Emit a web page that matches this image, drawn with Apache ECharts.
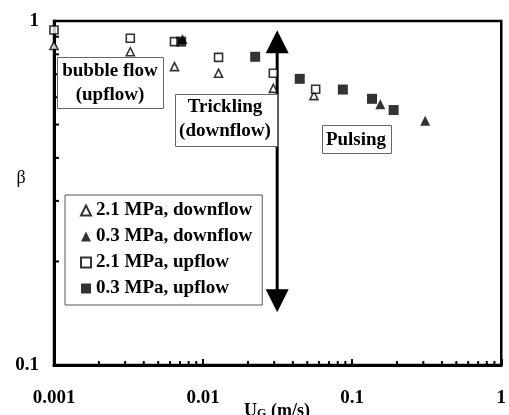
<!DOCTYPE html>
<html><head><meta charset="utf-8">
<script src="https://cdn.jsdelivr.net/npm/echarts@6/dist/echarts.min.js"></script>
<style>html,body{margin:0;padding:0;background:#fff}#c{width:509px;height:415px}</style>
</head><body><div id="c"></div>
<script>
// ---- data ----
const xTickLabels = ['0.001', '0.01', '0.1', '1'];
const yTickLabels = ['0.1', '1'];
const xMinorTickValues = [0.002,0.003,0.004,0.005,0.006,0.007,0.008,0.009,
                          0.02,0.03,0.04,0.05,0.06,0.07,0.08,0.09,
                          0.2,0.3,0.4,0.5,0.6,0.7,0.8,0.9];
const yMinorTickValues = [0.2,0.3,0.4,0.5,0.6,0.7,0.8,0.9];

const down21_UG   = [0.001, 0.00325, 0.00643, 0.0127, 0.0296, 0.0554];
const down21_beta = [0.849, 0.814, 0.737, 0.705, 0.637, 0.607];

const down03_UG   = [0.00727, 0.1545, 0.309];
const down03_beta = [0.886, 0.573, 0.513];

const up21_UG   = [0.001, 0.00325, 0.00643, 0.0127, 0.0296, 0.0569];
const up21_beta = [0.942, 0.891, 0.871, 0.784, 0.705, 0.633];

const up03_UG   = [0.00713, 0.02236, 0.0445, 0.0866, 0.1358, 0.1897];
const up03_beta = [0.871, 0.787, 0.679, 0.632, 0.594, 0.551];

// transition arrow (U_G, beta at lower tip, beta at upper tip)
const arrowUG = 0.0314;
const arrowBetaLow = 0.1424;
const arrowBetaHigh = 0.94;

const seriesNames = ['2.1 MPa, downflow', '0.3 MPa, downflow', '2.1 MPa, upflow', '0.3 MPa, upflow'];

// ---- chart ----
const FONT = '"Liberation Serif", "Times New Roman", serif';
const zip = (a, b) => a.map((v, i) => [v, b[i]]);
const chart = echarts.init(document.getElementById('c'), null, {renderer: 'canvas'});

const openStyle = {color: '#fff', borderColor: '#000', borderWidth: 1.6};
const fillStyle = {color: '#000', borderColor: '#000', borderWidth: 0};

const option = {
  animation: false,
  backgroundColor: '#fff',
  grid: {left: 54, right: 6, top: 21, bottom: 50, show: true, borderColor: '#000', borderWidth: 2.5},
  xAxis: {
    type: 'log', logBase: 10, min: 0.001, max: 1,
    axisLine: {show: true, lineStyle: {color: '#000', width: 3}},
    axisTick: {show: true, inside: true, length: 6, lineStyle: {color: '#000', width: 2}},
    splitLine: {show: false},
    axisLabel: {
      margin: 24, color: '#000', fontFamily: FONT, fontWeight: 'bold', fontSize: 19,
      formatter: v => { const s = String(+(+v).toPrecision(3)); return xTickLabels.indexOf(s) >= 0 ? s : ''; }
    }
  },
  yAxis: {
    type: 'log', logBase: 10, min: 0.1, max: 1,
    axisLine: {show: true, lineStyle: {color: '#000', width: 3}},
    axisTick: {show: false},
    splitLine: {show: false},
    axisLabel: {
      margin: 15, color: '#000', fontFamily: FONT, fontWeight: 'bold', fontSize: 19,
      formatter: v => { const s = String(+(+v).toPrecision(3)); return yTickLabels.indexOf(s) >= 0 ? s : ''; }
    }
  },
  legend: {
    data: seriesNames,
    orient: 'vertical',
    left: 65, top: 195,
    padding: [6, 10, 7, 15],
    itemGap: 7,
    itemWidth: 10, itemHeight: 10,
    borderColor: '#555', borderWidth: 1, backgroundColor: '#fff',
    textStyle: {color: '#000', fontFamily: FONT, fontWeight: 'bold', fontSize: 19},
    selectedMode: false
  },
  graphic: [
    // bubble flow box
    {type: 'rect', left: 57, top: 57, shape: {width: 106, height: 51}, style: {fill: '#fff', stroke: '#666', lineWidth: 1}, z: 50},
    {type: 'text', x: 110, y: 71, style: {text: 'bubble flow', fill: '#000', font: 'bold 19px ' + FONT, align: 'center', verticalAlign: 'middle'}, z: 51},
    {type: 'text', x: 110, y: 95, style: {text: '(upflow)', fill: '#000', font: 'bold 19px ' + FONT, align: 'center', verticalAlign: 'middle'}, z: 51},
    // trickling box
    {type: 'rect', left: 175, top: 94, shape: {width: 102, height: 52}, style: {fill: '#fff', stroke: '#666', lineWidth: 1}, z: 50},
    {type: 'text', x: 225, y: 107, style: {text: 'Trickling', fill: '#000', font: 'bold 19px ' + FONT, align: 'center', verticalAlign: 'middle'}, z: 51},
    {type: 'text', x: 225, y: 131, style: {text: '(downflow)', fill: '#000', font: 'bold 19px ' + FONT, align: 'center', verticalAlign: 'middle'}, z: 51},
    // pulsing box
    {type: 'rect', left: 322, top: 125, shape: {width: 69, height: 28}, style: {fill: '#fff', stroke: '#666', lineWidth: 1}, z: 50},
    {type: 'text', x: 356, y: 140, style: {text: 'Pulsing', fill: '#000', font: 'bold 19px ' + FONT, align: 'center', verticalAlign: 'middle'}, z: 51},
    // axis names
    {type: 'text', x: 21, y: 178, style: {text: 'β', fill: '#000', font: '18px ' + FONT, align: 'center', verticalAlign: 'middle'}, z: 51},
    {type: 'text', x: 277, y: 411, style: {
      text: '{a|U}{s|G}{a| (m/s)}', align: 'center', verticalAlign: 'middle',
      rich: {a: {fontFamily: FONT, fontWeight: 'bold', fontSize: 18, fill: '#000'},
             s: {fontFamily: FONT, fontWeight: 'bold', fontSize: 12, fill: '#000', verticalAlign: 'bottom', padding: [6, 0, 0, 0]}}
    }, z: 51}
  ],
  series: [
    {
      type: 'custom', name: 'xMinor', silent: true, z: 5,
      data: xMinorTickValues.map(v => [v, 0.1]),
      encode: {x: 0, y: 1},
      renderItem: (params, api) => {
        const p = api.coord([api.value(0), api.value(1)]);
        return {type: 'line', shape: {x1: p[0], y1: p[1], x2: p[0], y2: p[1] - 4}, style: {stroke: '#000', lineWidth: 2}};
      }
    },
    {
      type: 'custom', name: 'yMinor', silent: true, z: 5,
      data: yMinorTickValues.map(v => [0.001, v]),
      encode: {x: 0, y: 1},
      renderItem: (params, api) => {
        const p = api.coord([api.value(0), api.value(1)]);
        return {type: 'line', shape: {x1: p[0], y1: p[1], x2: p[0] + 5, y2: p[1]}, style: {stroke: '#000', lineWidth: 2}};
      }
    },
    {
      type: 'custom', name: 'arrow', silent: true, z: 3,
      data: [[arrowUG, arrowBetaLow, arrowBetaHigh]],
      encode: {x: 0, y: [1, 2]},
      renderItem: (params, api) => {
        const lo = api.coord([api.value(0), api.value(1)]);
        const hi = api.coord([api.value(0), api.value(2)]);
        const hw = 11.5, hh = 23;
        return {type: 'group', children: [
          {type: 'line', shape: {x1: hi[0], y1: hi[1] + hh - 2, x2: lo[0], y2: lo[1] - hh + 2}, style: {stroke: '#000', lineWidth: 3}},
          {type: 'polygon', shape: {points: [[hi[0], hi[1]], [hi[0] - hw, hi[1] + hh], [hi[0] + hw, hi[1] + hh]]}, style: {fill: '#000'}},
          {type: 'polygon', shape: {points: [[lo[0], lo[1]], [lo[0] - hw, lo[1] - hh], [lo[0] + hw, lo[1] - hh]]}, style: {fill: '#000'}}
        ]};
      }
    },
    {type: 'scatter', name: seriesNames[0], data: zip(down21_UG, down21_beta), symbol: 'triangle', symbolSize: 8, itemStyle: openStyle, z: 10},
    {type: 'scatter', name: seriesNames[1], data: zip(down03_UG, down03_beta), symbol: 'triangle', symbolSize: 10, itemStyle: fillStyle, z: 10},
    {type: 'scatter', name: seriesNames[2], data: zip(up21_UG, up21_beta), symbol: 'rect', symbolSize: 8, itemStyle: openStyle, z: 10},
    {type: 'scatter', name: seriesNames[3], data: zip(up03_UG, up03_beta), symbol: 'rect', symbolSize: 10, itemStyle: fillStyle, z: 10}
  ]
};
chart.setOption(option);
</script>
</body></html>
